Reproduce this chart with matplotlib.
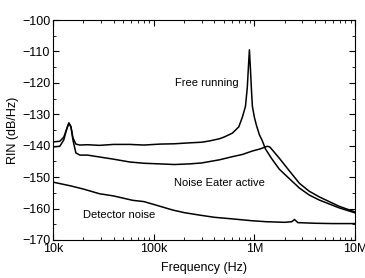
import matplotlib
matplotlib.use("Agg")
import matplotlib.pyplot as plt
from matplotlib.ticker import LogLocator, NullFormatter

# frequency in Hz, RIN in dB/Hz
free_f = [10000, 11700, 12800, 13800, 14400, 15100, 15800, 16900, 18500, 22000,
	29000, 40000, 58000, 80000, 115000, 160000, 227000, 300000, 358000, 450000,
	505000, 605000, 700000, 760000, 815000, 850000, 872000, 892000, 913000, 934000,
	955000, 1000000, 1047000, 1120000, 1200000, 1285000, 1345000, 1474000, 1768000,
	2221000, 2800000, 3500000, 4400000, 6940000, 10000000]
free_db = [-138.8, -138.6, -137.3, -134.4, -132.8, -134.0, -137.5, -139.5, -139.8, -139.7,
	-139.9, -139.6, -139.6, -139.8, -139.5, -139.4, -139.1, -138.9, -138.5, -137.8,
	-137.2, -136.0, -134.0, -130.9, -127.5, -121.5, -115.0, -109.5, -115.5, -122.0,
	-127.5, -131.0, -133.5, -136.5, -138.5, -141.0, -142.0, -144.0, -147.5,
	-150.5, -153.5, -155.7, -157.3, -159.8, -161.4]

eater_f = [10000, 11700, 12800, 13800, 14400, 15100, 15800, 16900, 18500, 22000,
	29000, 40000, 58000, 80000, 115000, 160000, 227000, 300000, 450000, 605000,
	760000, 955000, 1150000, 1285000, 1345000, 1420000, 1474000, 1768000, 2221000,
	2800000, 3500000, 4400000, 6940000, 10000000]
eater_db = [-140.4, -140.2, -138.2, -134.4, -132.8, -134.0, -138.2, -142.3, -143.0, -143.0,
	-143.6, -144.3, -145.2, -145.6, -145.8, -146.0, -145.8, -145.5, -144.5, -143.5,
	-142.8, -141.7, -141.0, -140.4, -140.2, -140.4, -141.0, -144.0, -148.0,
	-152.0, -154.5, -156.3, -159.3, -161.1]

det_f = [10000, 15000, 20000, 29000, 40000, 62000, 80000, 100000, 155000, 200000,
	285000, 400000, 600000, 950000, 1300000, 2000000, 2350000, 2500000, 2700000,
	4000000, 6000000, 10000000]
det_db = [-151.6, -152.8, -153.8, -155.3, -156.0, -157.4, -157.8, -158.7, -160.5, -161.3,
	-162.1, -162.8, -163.3, -163.9, -164.2, -164.4, -164.2, -163.5, -164.5,
	-164.7, -164.8, -164.8]

x_ticks = [1e4, 1e5, 1e6, 1e7]
x_labels = ["10k", "100k", "1M", "10M"]
y_ticks = [-100, -110, -120, -130, -140, -150, -160, -170]


def main():
	plt.rcParams['font.family'] = ['Liberation Sans', 'DejaVu Sans']
	fig = plt.figure(figsize=(3.65, 2.78), dpi=100)
	ax = fig.add_axes([0.145, 0.137, 0.828, 0.791])

	ax.plot(free_f, free_db, color="black", lw=1.1)
	ax.plot(eater_f, eater_db, color="black", lw=1.1)
	ax.plot(det_f, det_db, color="black", lw=1.1)

	ax.set_xscale("log")
	ax.set_xlim(1e4, 1e7)
	ax.set_ylim(-170, -100)
	ax.set_xticks(x_ticks, x_labels)
	ax.xaxis.set_minor_locator(LogLocator(base=10, subs=range(2, 10)))
	ax.xaxis.set_minor_formatter(NullFormatter())
	ax.set_yticks(y_ticks)
	ax.set_yticks(range(-165, -100, 10), minor=True)

	ax.tick_params(which="both", direction="in", top=True, right=True, labelsize=9, pad=2)
	ax.tick_params(which="major", length=4, width=0.8)
	ax.tick_params(which="minor", length=2, width=0.6)

	ax.set_xlabel("Frequency (Hz)", fontsize=9, labelpad=5)
	ax.set_ylabel("RIN (dB/Hz)", fontsize=9, labelpad=2)

	ax.text(3.4e5, -120, "Free running", fontsize=8, ha="center", va="center")
	ax.text(4.5e5, -152, "Noise Eater active", fontsize=8, ha="center", va="center")
	ax.text(4.5e4, -162, "Detector noise", fontsize=8, ha="center", va="center")

	fig.savefig("out.png", dpi=100)


if __name__ == '__main__':
	main()
